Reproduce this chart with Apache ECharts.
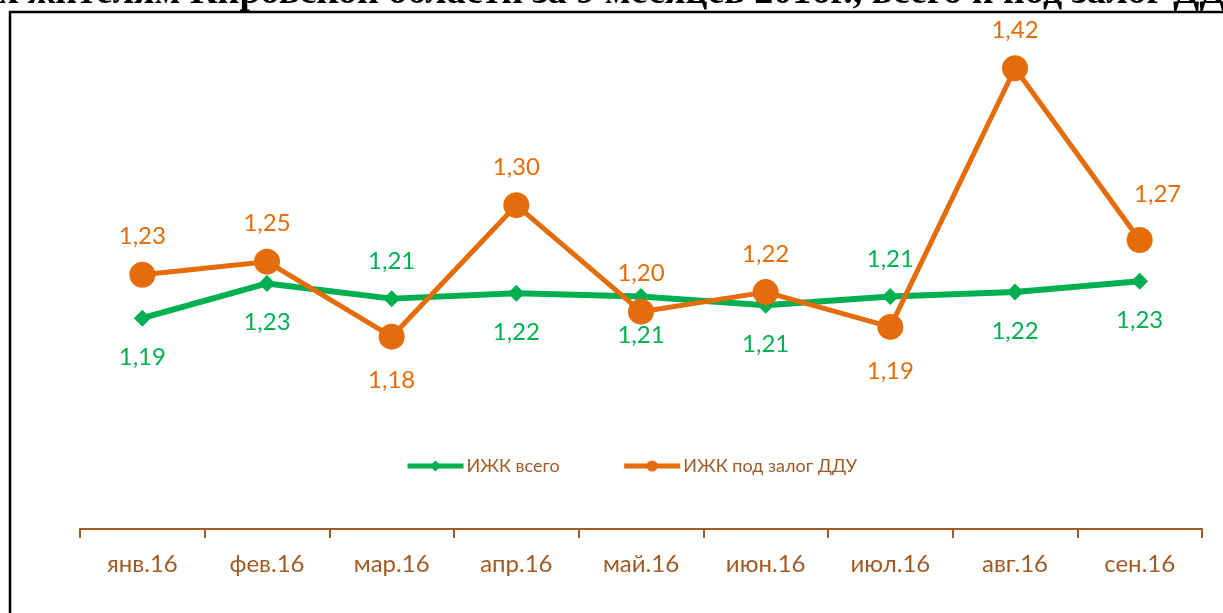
<!DOCTYPE html>
<html>
<head>
<meta charset="utf-8">
<script src="https://cdn.jsdelivr.net/npm/echarts@6/dist/echarts.min.js"></script>
<style>
  html, body { margin: 0; padding: 0; background: #fff; }
  #chart { width: 1223px; height: 613px; }
</style>
</head>
<body>
<div id="chart"></div>
<script>
// данные (млн руб.)
const categories = ['янв.16', 'фев.16', 'мар.16', 'апр.16', 'май.16', 'июн.16', 'июл.16', 'авг.16', 'сен.16'];
const totalValues = [1.194, 1.226, 1.212, 1.217, 1.214, 1.206, 1.214, 1.218, 1.228];
const dduValues = [1.234, 1.246, 1.177, 1.298, 1.200, 1.218, 1.186, 1.424, 1.266];
const seriesNames = ['ИЖК всего', 'ИЖК под залог ДДУ'];
// заголовок обрезан сверху, видна только нижняя часть строки
const titleLead = 'Средний размер ИЖК, выданных жителям ';
const titleRest = 'Кировской области за 9 месяцев 2016г., всего и под залог ДДУ';

// где стоит подпись: t - сверху, b - снизу
const totalSides = ['b', 'b', 't', 'b', 'b', 'b', 't', 'b', 'b'];
const dduSides = ['t', 't', 'b', 't', 't', 't', 'b', 't', 't'];

const green = '#00B050';
const orange = '#E46C0A';
const brown = '#A05A24';
const font = 'Lato, "Open Sans", sans-serif';
const titleFont = 'bold 38px "Liberation Serif", "DejaVu Serif", serif';

const fmt = v => v.toFixed(2).replace('.', ',');

function withLabels(values, sides, up, down, color) {
  return values.map((v, i) => {
    let offset = [0, sides[i] === 't' ? up : down];
    if (i === values.length - 1 && color === orange) offset = [18, -46];
    return {
      value: v,
      label: {
        show: true,
        position: 'inside',
        offset: offset,
        formatter: p => fmt(p.value),
        color: color,
        fontSize: 24,
        fontFamily: font
      }
    };
  });
}

// ширина начала заголовка, чтобы "Кировской" стояло на месте
const ctx = document.createElement('canvas').getContext('2d');
ctx.font = titleFont;
const leadWidth = ctx.measureText(titleLead).width;

const chart = echarts.init(document.getElementById('chart'));

const option = {
  backgroundColor: '#fff',
  animation: false,
  graphic: [
    {
      type: 'rect',
      shape: { x: 10, y: 12, width: 1400, height: 800 },
      style: { fill: 'none', stroke: '#000', lineWidth: 2.5 },
      z: 0
    },
    {
      type: 'text',
      x: 190 - leadWidth,
      y: 12,
      style: {
        text: titleLead + titleRest,
        font: titleFont,
        fill: '#000',
        verticalAlign: 'bottom'
      }
    }
  ],
  legend: {
    top: 452,
    left: 400,
    itemWidth: 56,
    itemHeight: 14,
    itemGap: 62,
    lineStyle: { width: 5 },
    textStyle: { color: brown, fontSize: 18, fontFamily: font, padding: [0, 0, 0, -2] },
    data: seriesNames
  },
  grid: { left: 80, right: 21, top: 40, bottom: 84 },
  xAxis: {
    type: 'category',
    data: categories,
    boundaryGap: true,
    axisLine: { lineStyle: { color: brown, width: 2 } },
    axisTick: { show: true, length: 9, lineStyle: { color: brown, width: 2 } },
    axisLabel: { color: brown, fontSize: 24, fontFamily: font, margin: 23 }
  },
  yAxis: {
    type: 'value',
    min: 1.0,
    max: 1.45,
    show: false,
    splitLine: { show: false }
  },
  series: [
    {
      name: seriesNames[0],
      type: 'line',
      data: withLabels(totalValues, totalSides, -37, 39, green),
      symbol: 'diamond',
      symbolSize: 17,
      color: green,
      lineStyle: { color: green, width: 6 },
      itemStyle: { color: green },
      z: 2
    },
    {
      name: seriesNames[1],
      type: 'line',
      data: withLabels(dduValues, dduSides, -38, 44, orange),
      symbol: 'circle',
      symbolSize: 26,
      color: orange,
      lineStyle: { color: orange, width: 5 },
      itemStyle: { color: orange },
      z: 3
    }
  ]
};

chart.setOption(option);
</script>
</body>
</html>
